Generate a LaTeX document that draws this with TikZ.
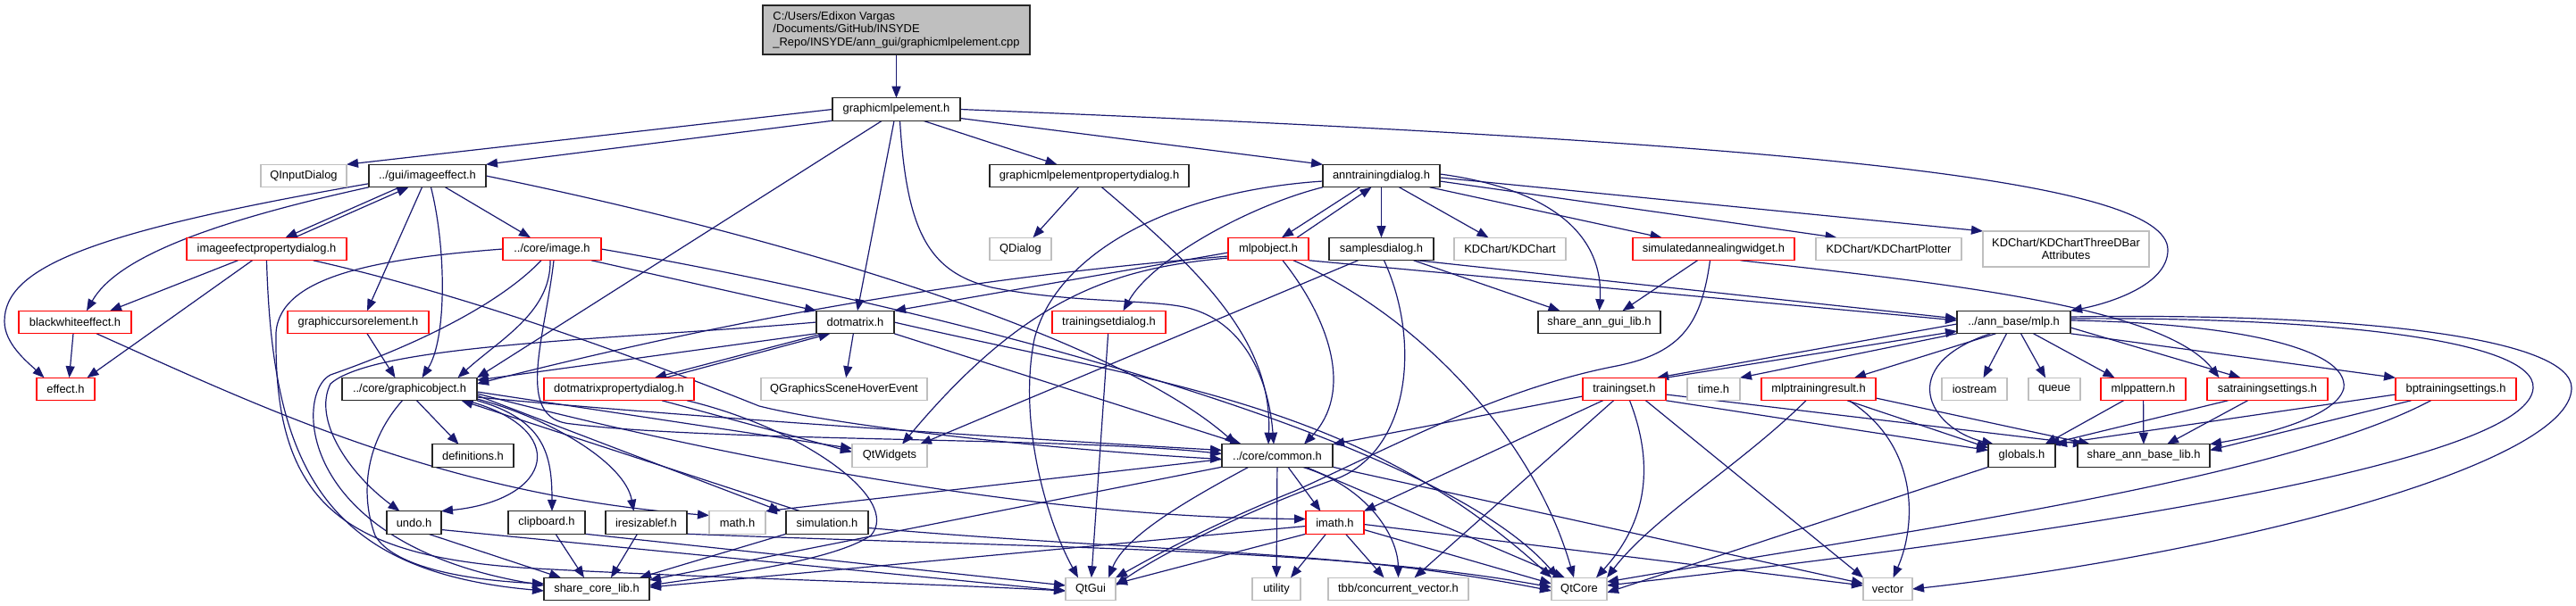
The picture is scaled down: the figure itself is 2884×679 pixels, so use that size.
\documentclass[tikz,border=0pt]{standalone}
\usepackage{fontspec}
\setmainfont{Liberation Sans}
\usetikzlibrary{arrows.meta}
\definecolor{edgec}{HTML}{191970}
\definecolor{grayb}{HTML}{BFBFBF}
\definecolor{redb}{HTML}{FF0000}
\pgfdeclarelayer{bg}
\pgfsetlayers{bg,main}
\tikzset{
  base/.style={rectangle, inner sep=0pt, outer sep=0pt, minimum height=12.75pt, line width=0.7pt, fill=white, font=\fontsize{6.45}{7.25}\selectfont},
  nb/.style={base, draw=black!85},
  nr/.style={base, draw=redb},
  ng/.style={base, draw=grayb},
  ed/.style={draw=edgec, line width=0.6pt, -{Triangle[length=6.5pt,width=5pt]}},
}
\begin{document}
\begin{tikzpicture}[x=0.5pt,y=-0.5pt]
\useasboundingbox (0,0) rectangle (2884,679);
% row 0-1
\node[nb, fill=grayb, minimum width=149.5pt, minimum height=27.5pt, align=left] (root) at (1003.5,33.5) {C:/Users/Edixon Vargas\\/Documents/GitHub/INSYDE\\\_Repo/INSYDE/ann\_gui/graphicmlpelement.cpp};
\node[nb, minimum width=71.5pt] (gme) at (1003.5,122.5) {graphicmlpelement.h};
% row 2
\node[ng, minimum width=48pt] (qinput) at (340,197) {QInputDialog};
\node[nb, minimum width=65.5pt] (imeff) at (478.5,197) {../gui/imageeffect.h};
\node[nb, minimum width=111.5pt] (gmepd) at (1219.5,197) {graphicmlpelementpropertydialog.h};
\node[nb, minimum width=65.5pt] (atd) at (1546.5,197) {anntrainingdialog.h};
% row 3
\node[nr, minimum width=89.5pt] (iepd) at (298.5,279) {imageefectpropertydialog.h};
\node[nr, minimum width=55pt] (image) at (618,279) {../core/image.h};
\node[ng, minimum width=34.5pt] (qdialog) at (1142.5,279) {QDialog};
\node[nr, minimum width=45pt] (mlpobj) at (1420,279) {mlpobject.h};
\node[nb, minimum width=58.5pt] (samples) at (1546.5,279) {samplesdialog.h};
\node[ng, minimum width=62.5pt] (kdchart) at (1690.5,279) {KDChart/KDChart};
\node[nr, minimum width=90.5pt] (saw) at (1918.5,279) {simulatedannealingwidget.h};
\node[ng, minimum width=81.5pt] (kdplot) at (2114.5,279) {KDChart/KDChartPlotter};
\node[ng, minimum width=93pt, minimum height=20pt, align=center] (kd3d) at (2313,279) {KDChart/KDChartThreeDBar\\Attributes};
% row 4
\node[nr, minimum width=63pt] (bwe) at (84,361) {blackwhiteeffect.h};
\node[nr, minimum width=79pt] (gce) at (401,361) {graphiccursorelement.h};
\node[nb, minimum width=43.5pt] (dotm) at (957.5,361) {dotmatrix.h};
\node[nr, minimum width=63.5pt] (tsdlg) at (1241.5,361) {trainingsetdialog.h};
\node[nb, minimum width=68.5pt] (sgui) at (1790.5,361) {share\_ann\_gui\_lib.h};
\node[nb, minimum width=63.5pt] (mlp) at (2254.5,361) {../ann\_base/mlp.h};
% row 5
\node[nr, minimum width=32.5pt] (effect) at (73.5,436) {effect.h};
\node[nb, minimum width=75.5pt] (gobj) at (458.5,436) {../core/graphicobject.h};
\node[nr, minimum width=84pt] (dmpd) at (693,436) {dotmatrixpropertydialog.h};
\node[ng, minimum width=93pt] (qgshe) at (945,436) {QGraphicsSceneHoverEvent};
\node[nr, minimum width=46.5pt] (tset) at (1818.5,436) {trainingset.h};
\node[ng, minimum width=29.5pt] (timeh) at (1918.5,436) {time.h};
\node[nr, minimum width=64pt] (mtr) at (2036,436) {mlptrainingresult.h};
\node[ng, minimum width=36.5pt] (iostr) at (2210.5,436) {iostream};
\node[ng, minimum width=29pt] (queue) at (2300,436) {queue};
\node[nr, minimum width=47.5pt] (mpat) at (2399.5,436) {mlppattern.h};
\node[nr, minimum width=67.5pt] (sats) at (2538.5,436) {satrainingsettings.h};
\node[nr, minimum width=67.5pt] (bpts) at (2749.5,436) {bptrainingsettings.h};
% row 6
\node[nb, minimum width=45.5pt] (defs) at (529.5,510.5) {definitions.h};
\node[ng, minimum width=42pt] (qtw) at (996,510.5) {QtWidgets};
\node[nb, minimum width=62pt] (common) at (1430,510.5) {../core/common.h};
\node[nb, minimum width=37.5pt] (globals) at (2263.5,510.5) {globals.h};
\node[nb, minimum width=74pt] (sbase) at (2400,510.5) {share\_ann\_base\_lib.h};
% row 7
\node[nb, minimum width=30.5pt] (undo) at (463.5,585.5) {undo.h};
\node[nb, minimum width=43pt] (clip) at (612,585.5) {clipboard.h};
\node[nb, minimum width=45.5pt] (iresz) at (723.5,585.5) {iresizablef.h};
\node[ng, minimum width=31.5pt] (mathh) at (825.5,585.5) {math.h};
\node[nb, minimum width=46pt] (simul) at (926,585.5) {simulation.h};
\node[nr, minimum width=32.5pt] (imath) at (1494.5,585.5) {imath.h};
% row 8
\node[nb, minimum width=59pt] (score) at (668,660) {share\_core\_lib.h};
\node[ng, minimum width=28pt] (qtgui) at (1221,660) {QtGui};
\node[ng, minimum width=27pt] (utility) at (1429,660) {utility};
\node[ng, minimum width=78.5pt] (tbb) at (1565.5,660) {tbb/concurrent\_vector.h};
\node[ng, minimum width=31pt] (qtcore) at (1768,660) {QtCore};
\node[ng, minimum width=27.5pt] (vector) at (2113.5,660) {vector};

\begin{pgfonlayer}{bg}
% root / gme
\draw[ed] (root) -- (gme);
\draw[ed] (gme.west) -- (qinput.north east);
\draw[ed] (gme.south west) -- (imeff.north east);
\draw[ed] ([xshift=15pt]gme.south) -- ([xshift=-18pt]gmepd.north);
\draw[ed] ([yshift=-5pt]gme.east) -- (atd.north west);
\draw[ed] (gme.east) .. controls (2000,160) and (2427,200) .. (2427,280) .. controls (2427,320) and (2360,340) .. (mlp.north east);
\draw[ed] (gme) -- (dotm);
\draw[ed] ([xshift=-8pt]gme.south) -- (gobj.north east);
\draw[ed] ([xshift=2pt]gme.south) .. controls (1015,260) and (1040,305) .. (1110,322) .. controls (1200,340) and (1290,335) .. (1330,345) .. controls (1390,360) and (1420,420) .. ([xshift=-2pt]common.north);
% gmepd
\draw[ed] ([xshift=-6pt]gmepd.south) -- ([xshift=7pt]qdialog.north);
\draw[ed] ([xshift=7pt]gmepd.south) .. controls (1340,300) and (1425,380) .. ([xshift=-5pt]common.north);
% atd
\draw[ed] ([xshift=-12pt]atd.south) -- ([xshift=7.5pt]mlpobj.north);
\draw[ed] ([xshift=16pt]mlpobj.north) -- ([xshift=-5.5pt]atd.south);
\draw[ed] (atd) -- (samples);
\draw[ed] ([xshift=10pt]atd.south) -- ([xshift=-12pt]kdchart.north);
\draw[ed] ([xshift=27pt]atd.south) -- ([xshift=-29pt]saw.north);
\draw[ed] ([yshift=-3pt]atd.east) -- ([xshift=-29pt]kdplot.north);
\draw[ed] ([yshift=-1pt]atd.east) -- (kd3d.north west);
\draw[ed] ([yshift=1pt]atd.east) .. controls (1760,215) and (1795,280) .. (sgui.north);
\draw[ed] ([yshift=-3pt]atd.west) .. controls (1300,215) and (1180,290) .. (1158,380) .. controls (1140,470) and (1170,580) .. ([xshift=-7pt]qtgui.north);
\draw[ed] (atd.south west) .. controls (1400,230) and (1290,290) .. ([xshift=8pt]tsdlg.north);
% mlpobject
\draw[ed] ([yshift=-2pt]mlpobj.west) -- (dotm.north east);
\draw[ed] ([yshift=-4pt]mlpobj.west) .. controls (1100,310) and (850,350) .. ([yshift=3pt]gobj.east);
\draw[ed] ([yshift=-5pt]mlpobj.west) .. controls (1250,300) and (1150,330) .. ([xshift=7pt]qtw.north);
\draw[ed] ([xshift=8pt]mlpobj.south) .. controls (1490,360) and (1515,440) .. ([xshift=15pt]common.north);
\draw[ed] ([xshift=14pt]mlpobj.south) .. controls (1600,360) and (1720,500) .. ([xshift=-3pt]qtcore.north);
\draw[ed] (mlpobj.south east) -- ([yshift=1pt]mlp.west);
% samplesdialog
\draw[ed] ([xshift=-13pt]samples.south) -- ([xshift=17pt]qtw.north);
\draw[ed] ([xshift=1.5pt]samples.south) .. controls (1590,380) and (1580,500) .. (1500,535) .. controls (1400,570) and (1300,620) .. ([yshift=2pt]qtgui.east);
\draw[ed] ([xshift=18pt]samples.south) -- ([xshift=-22pt]sgui.north);
\draw[ed] ([xshift=20pt]samples.south) -- ([yshift=2pt]mlp.west);
% saw
\draw[ed] ([xshift=-9pt]saw.south) -- ([xshift=13pt]sgui.north);
\draw[ed] ([xshift=-2pt]saw.south) .. controls (1905,360) and (1885,395) .. (1810,410) .. controls (1680,435) and (1560,500) .. (1450,550) .. controls (1350,590) and (1280,630) .. (qtgui.north east);
\draw[ed] ([xshift=15pt]saw.south) .. controls (2150,315) and (2420,340) .. ([xshift=-27pt]sats.north);
\draw[ed] (tsdlg) -- (qtgui);
% imageeffect
\draw[ed] ([xshift=-15.5pt]imeff.south) -- ([xshift=10.5pt]iepd.north);
\draw[ed] ([xshift=15.5pt]iepd.north) -- ([xshift=-10.5pt]imeff.south);
\draw[ed] (imeff.south west) .. controls (230,250) and (130,290) .. ([xshift=6.5pt]bwe.north);
\draw[ed] ([yshift=2pt]imeff.south west) .. controls (100,260) and (5,300) .. (5,360) .. controls (5,385) and (30,405) .. ([xshift=-12pt]effect.north);
\draw[ed] ([xshift=10pt]imeff.south) -- ([xshift=-12pt]image.north);
\draw[ed] ([xshift=-3pt]imeff.south) -- ([xshift=5pt]gce.north);
\draw[ed] ([xshift=2pt]imeff.south) .. controls (500,280) and (500,380) .. ([xshift=7pt]gobj.north);
\draw[ed] (imeff.east) .. controls (900,270) and (1250,380) .. ([xshift=-23pt]common.north);
% iepd
\draw[ed] ([xshift=-16pt]iepd.south) -- ([xshift=19.5pt]bwe.north);
\draw[ed] ([xshift=-8pt]iepd.south) -- ([xshift=12pt]effect.north);
\draw[ed] (iepd.south) .. controls (305,520) and (360,640) .. ([yshift=-1pt]score.west);
\draw[ed] ([xshift=26pt]iepd.south) .. controls (520,330) and (700,395) .. (850,455) .. controls (950,480) and (1200,505) .. ([yshift=-2pt]common.west);
% image
\draw[ed] ([xshift=22pt]image.south) -- (dotm.north west);
\draw[ed] ([xshift=-1pt]image.south) .. controls (617,350) and (560,380) .. ([xshift=27pt]gobj.north);
\draw[ed] ([xshift=1pt]image.south) .. controls (610,380) and (575,470) .. (640,475) .. controls (800,495) and (1200,490) .. ([yshift=1pt]common.west);
\draw[ed] ([xshift=-6pt]image.south) .. controls (560,340) and (470,385) .. (370,420) .. controls (330,440) and (330,610) .. ([yshift=2pt]score.west);
\draw[ed] (image.west) .. controls (420,290) and (305,310) .. (309,380) .. controls (308,560) and (380,625) .. (600,637) .. controls (800,648) and (1000,652) .. ([yshift=-1pt]qtgui.west);
\draw[ed] (image.east) .. controls (1000,335) and (1600,480) .. ([xshift=-12pt]qtcore.north);
% dotmatrix
\draw[ed] (dotm.south west) -- ([yshift=5pt]gobj.east);
\draw[ed] ([xshift=-18pt]dotm.south) -- ([xshift=20pt]dmpd.north);
\draw[ed] ([xshift=26pt]dmpd.north) -- ([xshift=-14pt]dotm.south);
\draw[ed] (dotm) -- (qgshe);
\draw[ed] (dotm.south east) -- ([xshift=-20pt]common.north);
\draw[ed] (dotm.east) .. controls (1300,430) and (1520,450) .. (qtcore.north west);
\draw[ed] (dotm.west) .. controls (700,380) and (420,385) .. (370,430) .. controls (350,470) and (390,530) .. ([xshift=-8pt]undo.north);
% graphiccursor, blackwhite
\draw[ed] ([xshift=5pt]gce.south) -- ([xshift=-8pt]gobj.north);
\draw[ed] ([xshift=-1pt]bwe.south) -- ([xshift=2pt]effect.north);
\draw[ed] ([xshift=12pt]bwe.south) .. controls (300,460) and (500,555) .. ([yshift=4pt]mathh.west);
% graphicobject
\draw[ed] ([xshift=4pt]gobj.south) -- ([xshift=-8pt]defs.north);
\draw[ed] ([xshift=-6pt]gobj.south east) .. controls (640,480) and (620,560) .. (undo.north east);
\draw[ed] (gobj.south east) .. controls (610,470) and (618,510) .. ([xshift=3pt]clip.north);
\draw[ed] ([yshift=-5.5pt]gobj.east) .. controls (620,470) and (700,520) .. ([xshift=-7pt]iresz.north);
\draw[ed] ([yshift=-3.5pt]gobj.east) -- ([xshift=-26pt]simul.north);
\draw[ed] ([xshift=-15pt]simul.north) -- ([xshift=29pt]gobj.south);
\draw[ed] ([yshift=-1.5pt]gobj.east) -- ([yshift=4pt]qtw.west);
\draw[ed] ([yshift=-4.5pt]gobj.east) .. controls (800,470) and (1200,495) .. ([yshift=3pt]common.west);
\draw[ed] ([yshift=-2.5pt]gobj.east) .. controls (800,510) and (1150,580) .. ([yshift=2pt]imath.west);
\draw[ed] ([xshift=-4pt]gobj.south) .. controls (405,500) and (405,560) .. (420,600) .. controls (440,635) and (520,650) .. ([yshift=3pt]score.west);
% dotmatrixpropertydialog
\draw[ed] ([xshift=24pt]dmpd.south) -- ([yshift=2pt]qtw.west);
\draw[ed] ([xshift=38pt]dmpd.south) .. controls (900,480) and (1010,560) .. (975,600) .. controls (930,630) and (800,645) .. ([yshift=2pt]score.east);
% small headers
\draw[ed] ([xshift=8pt]undo.south) -- ([xshift=-20pt]score.north);
\draw[ed] ([yshift=-4pt]undo.east) -- ([yshift=-1pt]qtgui.west);
\draw[ed] ([xshift=5pt]clip.south) -- ([xshift=-7pt]score.north);
\draw[ed] (clip.south east) -- ([yshift=2pt]qtgui.west);
\draw[ed] ([xshift=-5pt]iresz.south) -- ([xshift=8pt]score.north);
\draw[ed] (iresz.south east) .. controls (1200,615) and (1500,615) .. ([yshift=1pt]qtcore.west);
\draw[ed] (simul.south west) -- ([xshift=24pt]score.north);
\draw[ed] ([yshift=-3pt]simul.east) .. controls (1300,620) and (1500,615) .. ([yshift=-1pt]qtcore.west);
% common
\draw[ed] ([yshift=-2pt]common.west) -- (mathh.north east);
\draw[ed] ([xshift=-16pt]common.south) .. controls (1330,560) and (1260,600) .. ([xshift=10pt]qtgui.north);
\draw[ed] (common) -- (utility);
\draw[ed] ([xshift=6pt]common.south) -- ([xshift=-8pt]imath.north);
\draw[ed] ([xshift=14pt]common.south) .. controls (1530,545) and (1565,600) .. (tbb.north);
\draw[ed] ([xshift=16pt]common.south) -- ([xshift=-8pt]qtcore.north);
\draw[ed] (common.south east) -- ([yshift=3pt]vector.west);
\draw[ed] (common.south west) -- ([yshift=5pt]score.east);
% imath
\draw[ed] ([yshift=-2pt]imath.west) -- ([yshift=1pt]score.east);
\draw[ed] (imath.south west) -- ([yshift=3pt]qtgui.east);
\draw[ed] ([xshift=-5pt]imath.south) -- ([xshift=8pt]utility.north);
\draw[ed] ([xshift=6pt]imath.south) -- ([xshift=-8pt]tbb.north);
\draw[ed] ([yshift=-4pt]imath.east) -- ([yshift=3pt]qtcore.west);
\draw[ed] ([yshift=-1pt]imath.east) -- ([yshift=2pt]vector.west);
% trainingset
\draw[ed] (tset.north east) -- ([yshift=-5pt]mlp.west);
\draw[ed] ([yshift=-1pt]mlp.west) -- ([xshift=-5pt]tset.north east);
\draw[ed] ([yshift=-4pt]tset.west) -- (common.north east);
\draw[ed] ([xshift=-12pt]tset.south) -- (imath.north east);
\draw[ed] ([xshift=-6pt]tset.south) -- ([xshift=9pt]tbb.north);
\draw[ed] ([xshift=3pt]tset.south) .. controls (1860,540) and (1830,600) .. ([xshift=-6pt]qtcore.north east);
\draw[ed] ([xshift=12pt]tset.south) -- (vector.north west);
\draw[ed] (tset.south east) -- ([yshift=3pt]globals.west);
\draw[ed] ([yshift=-3pt]tset.east) -- ([xshift=-33pt]sbase.north);
% mlptrainingresult
\draw[ed] ([xshift=-7pt]mtr.south) .. controls (1950,520) and (1850,580) .. (qtcore.north east);
\draw[ed] ([xshift=17pt]mtr.south) .. controls (2150,500) and (2145,590) .. ([xshift=3pt]vector.north);
\draw[ed] ([xshift=16pt]mtr.south) -- ([yshift=-2pt]globals.north west);
\draw[ed] ([yshift=-5pt]mtr.east) -- ([xshift=-30pt]sbase.north);
% mlp
\draw[ed] (mlp.south west) -- (timeh.north east);
\draw[ed] ([xshift=-10pt]mlp.south) -- ([xshift=20pt]mtr.north);
\draw[ed] ([xshift=-13pt]mlp.south) .. controls (2120,410) and (2160,480) .. ([xshift=3pt]globals.north west);
\draw[ed] ([xshift=-4pt]mlp.south) -- ([xshift=5pt]iostr.north);
\draw[ed] ([xshift=4pt]mlp.south) -- ([xshift=-5pt]queue.north);
\draw[ed] ([xshift=11pt]mlp.south) -- ([xshift=-16pt]mpat.north);
\draw[ed] ([yshift=-3pt]mlp.east) -- ([xshift=-15pt]sats.north);
\draw[ed] (mlp.south east) -- (bpts.north west);
\draw[ed] ([yshift=1pt]mlp.east) .. controls (2500,362) and (2630,390) .. (2624,435) .. controls (2615,470) and (2520,490) .. (sbase.north east);
\draw[ed] ([yshift=2pt]mlp.east) .. controls (2600,355) and (2840,380) .. (2836,435) .. controls (2830,520) and (2300,600) .. ([yshift=2pt]qtcore.east);
\draw[ed] ([yshift=3pt]mlp.east) .. controls (2650,350) and (2880,380) .. (2879,435) .. controls (2878,520) and (2500,620) .. (vector.east);
% mlppattern, satraining, bptraining, globals
\draw[ed] ([xshift=-11pt]mpat.south) -- ([xshift=13pt]globals.north);
\draw[ed] (mpat) -- (sbase);
\draw[ed] ([xshift=-11pt]sats.south) -- ([xshift=13pt]sbase.north);
\draw[ed] ([xshift=-22pt]sats.south) -- ([xshift=-4pt]globals.north east);
\draw[ed] ([yshift=-3pt]bpts.west) -- (globals.north east);
\draw[ed] ([xshift=-25pt]bpts.south) -- ([yshift=3pt]sbase.east);
\draw[ed] ([xshift=-14pt]bpts.south) .. controls (2550,540) and (2100,600) .. ([yshift=4pt]qtcore.east);
\draw[ed] (globals.south west) -- ([yshift=-2pt]qtcore.east);
\end{pgfonlayer}
\end{tikzpicture}
\end{document}
